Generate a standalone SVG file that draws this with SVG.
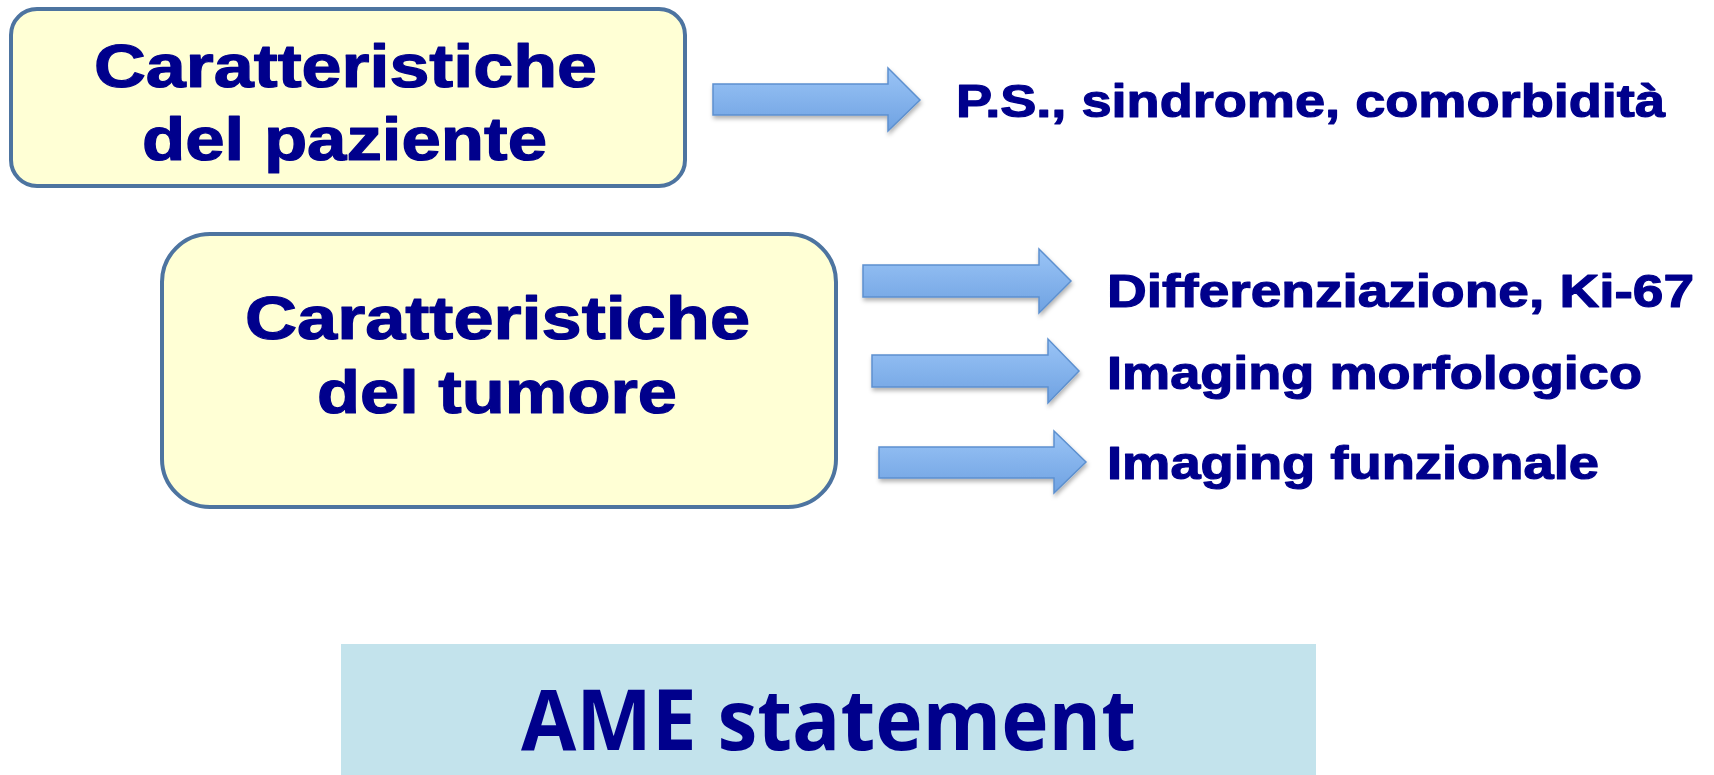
<svg xmlns="http://www.w3.org/2000/svg" width="1714" height="775" viewBox="0 0 1714 775">
  <defs>
    <style>
      .box { fill: #ffffd5; stroke: #4d74a0; stroke-width: 4; }
      .t { font-family: "Liberation Sans", Arial, sans-serif; font-weight: bold; fill: #00008c; stroke: #00008c; stroke-width: 1.2; stroke-linejoin: round; }
      .big { font-size: 61px; }
      .mid { font-size: 47px; }
      .arrow { fill: url(#ag); stroke: #5d90cf; stroke-width: 1.5; filter: url(#sh); }
      .ame { font-family: "Open Sans", "Liberation Sans", sans-serif; font-weight: bold; font-size: 84px; fill: #00008c; }
    </style>
    <linearGradient id="ag" x1="0" y1="0" x2="0" y2="1">
      <stop offset="0" stop-color="#9ac4f6"/>
      <stop offset="1" stop-color="#6fa2e2"/>
    </linearGradient>
    <filter id="sh" x="-10%" y="-20%" width="130%" height="150%">
      <feDropShadow dx="1" dy="3" stdDeviation="2" flood-color="#000" flood-opacity="0.3"/>
    </filter>
  </defs>
  <rect width="1714" height="775" fill="#ffffff"/>

  <g id="node-paziente">
    <rect class="box" x="11" y="9" width="674" height="177" rx="26" ry="26"/>
    <text class="t big" x="94" y="87" textLength="503" lengthAdjust="spacingAndGlyphs">Caratteristiche</text>
    <text class="t big" x="142" y="160" textLength="405" lengthAdjust="spacingAndGlyphs">del paziente</text>
  </g>

  <g id="node-tumore">
    <rect class="box" x="162" y="234" width="674" height="273" rx="48" ry="48"/>
    <text class="t big" x="245" y="339" textLength="505" lengthAdjust="spacingAndGlyphs">Caratteristiche</text>
    <text class="t big" x="317" y="413" textLength="360" lengthAdjust="spacingAndGlyphs">del tumore</text>
  </g>

  <g id="connectors">
    <polygon class="arrow" points="713,84 888,84 888,68 920,100 888,131 888,115 713,115"/>
    <polygon class="arrow" points="863,265 1039,265 1039,249 1071,281 1039,313 1039,297 863,297"/>
    <polygon class="arrow" points="872,355 1048,355 1048,339 1079,371 1048,403 1048,387 872,387"/>
    <polygon class="arrow" points="879,447 1054,447 1054,431 1086,462 1054,493 1054,478 879,478"/>
  </g>

  <g id="node-ps">
    <text class="t mid" x="956" y="117" textLength="709" lengthAdjust="spacingAndGlyphs">P.S., sindrome, comorbidità</text>
  </g>
  <g id="node-diff">
    <text class="t mid" x="1107" y="307" textLength="587" lengthAdjust="spacingAndGlyphs">Differenziazione, Ki-67</text>
  </g>
  <g id="node-morf">
    <text class="t mid" x="1107" y="389" textLength="535" lengthAdjust="spacingAndGlyphs">Imaging morfologico</text>
  </g>
  <g id="node-funz">
    <text class="t mid" x="1107" y="479" textLength="492" lengthAdjust="spacingAndGlyphs">Imaging funzionale</text>
  </g>

  <g id="node-ame">
    <rect x="341" y="644" width="975" height="131" fill="#c3e3ec"/>
    <text class="ame" x="521" y="750" textLength="615" lengthAdjust="spacingAndGlyphs">AME statement</text>
  </g>
</svg>
